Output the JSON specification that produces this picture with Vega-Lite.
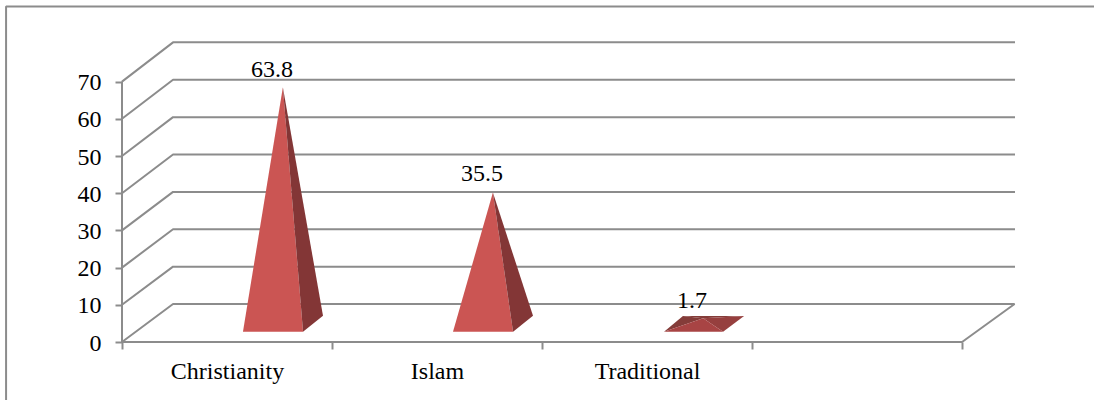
{"$schema":"https://vega.github.io/schema/vega-lite/v6.json","width":893,"height":300,"autosize":{"type":"none"},"padding":{"left":122,"top":42,"right":79,"bottom":58},"background":"white","config":{"view":{"stroke":null},"font":"Liberation Serif"},"datasets":{"lines":[{"s":"border","i":0,"x":-0.552,"y":-15.6},{"s":"border","i":1,"x":-0.552,"y":90.2},{"s":"border","i":2,"x":4.63,"y":90.2},{"s":"g0","i":0,"x":0,"y":0},{"s":"g0","i":1,"x":0.243,"y":10.2},{"s":"g0","i":2,"x":4.25,"y":10.2},{"s":"g0","i":3,"x":4,"y":0},{"s":"g0","i":4,"x":0,"y":0},{"s":"g10","i":0,"x":0,"y":10},{"s":"g10","i":1,"x":0.243,"y":20.25},{"s":"g10","i":2,"x":4.252,"y":20.25},{"s":"g20","i":0,"x":0,"y":20},{"s":"g20","i":1,"x":0.243,"y":30.3},{"s":"g20","i":2,"x":4.252,"y":30.3},{"s":"g30","i":0,"x":0,"y":30},{"s":"g30","i":1,"x":0.243,"y":40.35},{"s":"g30","i":2,"x":4.252,"y":40.35},{"s":"g40","i":0,"x":0,"y":40},{"s":"g40","i":1,"x":0.243,"y":50.4},{"s":"g40","i":2,"x":4.252,"y":50.4},{"s":"g50","i":0,"x":0,"y":50},{"s":"g50","i":1,"x":0.243,"y":60.45},{"s":"g50","i":2,"x":4.252,"y":60.45},{"s":"g60","i":0,"x":0,"y":60},{"s":"g60","i":1,"x":0.243,"y":70.5},{"s":"g60","i":2,"x":4.252,"y":70.5},{"s":"g70","i":0,"x":0,"y":70},{"s":"g70","i":1,"x":0.243,"y":80.55},{"s":"g70","i":2,"x":4.252,"y":80.55},{"s":"yaxis","i":0,"x":0,"y":0},{"s":"yaxis","i":1,"x":0,"y":70}],"faces":[{"p":"c-front","face":"front","i":0,"x":0.576,"y":2.77},{"p":"c-front","face":"front","i":1,"x":0.862,"y":2.77},{"p":"c-front","face":"front","i":2,"x":0.766,"y":68.5},{"p":"c-side","face":"side","i":0,"x":0.862,"y":2.77},{"p":"c-side","face":"side","i":1,"x":0.957,"y":7.07},{"p":"c-side","face":"side","i":2,"x":0.766,"y":68.5},{"p":"i-front","face":"front","i":0,"x":1.576,"y":2.77},{"p":"i-front","face":"front","i":1,"x":1.862,"y":2.77},{"p":"i-front","face":"front","i":2,"x":1.766,"y":40.2},{"p":"i-side","face":"side","i":0,"x":1.862,"y":2.77},{"p":"i-side","face":"side","i":1,"x":1.957,"y":7.07},{"p":"i-side","face":"side","i":2,"x":1.766,"y":40.2},{"p":"t-back","face":"flatback","i":0,"x":2.671,"y":6.99},{"p":"t-back","face":"flatback","i":1,"x":2.962,"y":6.99},{"p":"t-back","face":"flatback","i":2,"x":2.767,"y":6.4},{"p":"t-left","face":"flatleft","i":0,"x":2.581,"y":2.77},{"p":"t-left","face":"flatleft","i":1,"x":2.671,"y":6.99},{"p":"t-left","face":"flatleft","i":2,"x":2.767,"y":6.4},{"p":"t-right","face":"flatright","i":0,"x":2.862,"y":2.77},{"p":"t-right","face":"flatright","i":1,"x":2.962,"y":6.99},{"p":"t-right","face":"flatright","i":2,"x":2.767,"y":6.4},{"p":"t-front","face":"flatfront","i":0,"x":2.581,"y":2.77},{"p":"t-front","face":"flatfront","i":1,"x":2.862,"y":2.77},{"p":"t-front","face":"flatfront","i":2,"x":2.767,"y":6.4}],"labels":[{"religion":"Christianity","value":"63.8","x":0.714,"y":71.2},{"religion":"Islam","value":"35.5","x":1.714,"y":43.2},{"religion":"Traditional","value":"1.7","x":2.714,"y":9.1}]},"data":{"name":"lines"},"layer":[{"mark":{"type":"line","stroke":"#8c8c8c","strokeWidth":2,"strokeJoin":"bevel","clip":false},"encoding":{"x":{"field":"x","type":"quantitative","scale":{"domain":[0,4.252],"nice":false,"zero":false},"axis":{"values":[0,1,2,3,4],"title":null,"grid":false,"domain":false,"tickSize":7,"tickWidth":2,"tickColor":"#8c8c8c","labelFont":"Liberation Serif","labelFontSize":24,"labelColor":"black","labelPadding":10,"labelOffset":105,"labelAlign":"center","labelOverlap":false,"labelBound":false,"labelFlush":false,"labelExpr":"datum.value==0?'Christianity':datum.value==1?'Islam':datum.value==2?'Traditional':''"}},"y":{"field":"y","type":"quantitative","scale":{"domain":[0,80.65],"nice":false,"zero":false},"axis":{"values":[0,10,20,30,40,50,60,70],"title":null,"grid":false,"domain":false,"tickSize":7,"tickWidth":2,"tickColor":"#8c8c8c","labelFont":"Liberation Serif","labelFontSize":24,"labelColor":"black","labelPadding":14,"labelFlush":false,"labelBound":false,"labelOverlap":false,"labelOffset":1}},"detail":{"field":"s"},"order":{"field":"i","type":"ordinal"}}},{"data":{"name":"faces"},"mark":{"type":"line","strokeWidth":0,"clip":false},"encoding":{"x":{"field":"x","type":"quantitative"},"y":{"field":"y","type":"quantitative"},"detail":{"field":"p"},"order":{"field":"i","type":"ordinal"},"fill":{"field":"face","type":"nominal","legend":null,"scale":{"domain":["front","side","flatback","flatleft","flatright","flatfront"],"range":["#cb5553","#833636","#843c39","#843c39","#963f3e","#a84444"]}}}},{"data":{"name":"labels"},"mark":{"type":"text","font":"Liberation Serif","fontSize":24,"color":"black","baseline":"alphabetic","align":"center"},"encoding":{"x":{"field":"x","type":"quantitative"},"y":{"field":"y","type":"quantitative"},"text":{"field":"value","type":"nominal"}}}]}
